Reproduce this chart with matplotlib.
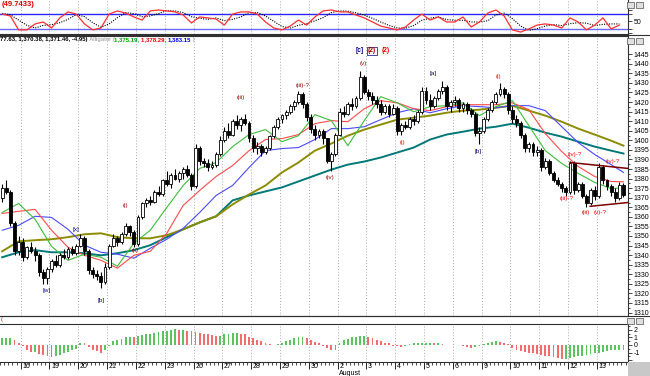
import matplotlib
matplotlib.use("Agg")
import matplotlib.pyplot as plt
import numpy as np
from matplotlib.patches import Rectangle
from matplotlib.transforms import blended_transform_factory

plt.rcParams["font.family"] = ["Liberation Sans", "DejaVu Sans"]

# ---- price bars (hourly), one list per field -------------------------------
opens = [1370, 1375, 1373, 1357, 1342,
         1347, 1339, 1344, 1342, 1340, 1331, 1328,
         1333, 1337, 1335, 1340, 1339, 1343, 1341,
         1345, 1349, 1342, 1332, 1330, 1329, 1326,
         1334, 1345, 1349, 1347, 1351, 1355, 1352,
         1346, 1360, 1367, 1369, 1368, 1373, 1372,
         1379, 1377, 1382, 1380, 1383, 1385, 1382,
         1376, 1396, 1389, 1388, 1386, 1387, 1393,
         1400, 1405, 1403, 1410, 1408, 1411, 1409,
         1401, 1396, 1397, 1394, 1396, 1402, 1407,
         1411, 1413, 1415, 1418, 1420, 1424, 1419,
         1412, 1406, 1403, 1405, 1401, 1389, 1393,
         1403, 1415, 1414, 1419, 1418, 1422, 1433,
         1425, 1423, 1421, 1419, 1415, 1418, 1414,
         1417, 1405, 1408, 1407, 1411, 1410, 1415,
         1426, 1421, 1418, 1422, 1426, 1428, 1418,
         1420, 1421, 1417, 1419, 1416, 1414, 1404,
         1405, 1411, 1416, 1420, 1424, 1427, 1424,
         1416, 1411, 1409, 1403, 1396, 1398, 1394,
         1395, 1386, 1389, 1383, 1379, 1377, 1375,
         1373, 1388, 1374, 1377, 1371, 1367, 1374,
         1371, 1386, 1379, 1376, 1373, 1370, 1376.4]
highs = [1377, 1379, 1374, 1358, 1350,
         1349, 1345, 1347, 1344, 1341, 1333, 1334,
         1338, 1340, 1341, 1343, 1344, 1345, 1346,
         1351, 1350, 1343, 1334, 1332, 1331, 1336,
         1346, 1351, 1350, 1352, 1357, 1356, 1353,
         1361, 1368, 1370, 1371, 1374, 1376, 1380,
         1384, 1383, 1385, 1384, 1386, 1387, 1383,
         1398, 1397, 1391, 1390, 1389, 1394, 1402,
         1407, 1409, 1411, 1413, 1412, 1414, 1410,
         1403, 1399, 1398, 1397, 1403, 1408, 1412,
         1414, 1416, 1419, 1421, 1426, 1425, 1420,
         1414, 1408, 1406, 1406, 1401, 1394, 1404,
         1417, 1418, 1420, 1422, 1423, 1436, 1434,
         1427, 1425, 1423, 1421, 1419, 1419, 1419,
         1418, 1409, 1410, 1412, 1413, 1416, 1428,
         1428, 1424, 1423, 1427, 1431, 1429, 1421,
         1423, 1422, 1420, 1420, 1417, 1415, 1407,
         1412, 1417, 1421, 1425, 1430, 1428, 1425,
         1418, 1413, 1410, 1404, 1399, 1399, 1397,
         1396, 1391, 1390, 1384, 1381, 1378, 1376,
         1389, 1389, 1378, 1378, 1372, 1375, 1376,
         1388, 1387, 1380, 1377, 1375, 1378, 1377.63]
lows = [1368, 1372, 1355, 1340, 1340,
        1337, 1338, 1341, 1337, 1329, 1325, 1325,
        1331, 1334, 1334, 1338, 1338, 1340, 1340,
        1344, 1340, 1330, 1328, 1327, 1323, 1325,
        1333, 1344, 1345, 1346, 1350, 1350, 1344,
        1345, 1359, 1365, 1366, 1367, 1371, 1371,
        1376, 1375, 1379, 1378, 1380, 1381, 1374,
        1375, 1387, 1386, 1384, 1385, 1386, 1392,
        1399, 1401, 1402, 1406, 1405, 1408, 1399,
        1394, 1393, 1392, 1393, 1395, 1401, 1406,
        1409, 1411, 1414, 1416, 1419, 1417, 1410,
        1404, 1400, 1401, 1398, 1388, 1384, 1392,
        1402, 1412, 1413, 1416, 1417, 1421, 1424,
        1421, 1419, 1417, 1413, 1414, 1412, 1413,
        1403, 1403, 1406, 1406, 1408, 1409, 1414,
        1419, 1416, 1417, 1421, 1424, 1416, 1415,
        1418, 1415, 1415, 1414, 1412, 1402, 1398,
        1404, 1410, 1415, 1419, 1423, 1422, 1414,
        1409, 1407, 1401, 1394, 1394, 1392, 1392,
        1384, 1385, 1382, 1378, 1376, 1373, 1371,
        1372, 1372, 1373, 1370, 1365, 1366, 1369,
        1370, 1377, 1374, 1371, 1368, 1369, 1370.38]
closes = [1375, 1373, 1357, 1342, 1347,
          1339, 1344, 1342, 1340, 1331, 1328, 1333,
          1337, 1335, 1340, 1339, 1343, 1341, 1345,
          1349, 1342, 1332, 1330, 1329, 1326, 1334,
          1345, 1349, 1347, 1351, 1355, 1352, 1346,
          1360, 1367, 1369, 1368, 1373, 1372, 1379,
          1377, 1382, 1380, 1383, 1385, 1382, 1376,
          1396, 1389, 1388, 1386, 1387, 1393, 1400,
          1405, 1403, 1410, 1408, 1411, 1409, 1401,
          1396, 1397, 1394, 1396, 1402, 1407, 1411,
          1413, 1415, 1418, 1420, 1424, 1419, 1412,
          1406, 1403, 1405, 1401, 1389, 1393, 1403,
          1415, 1414, 1419, 1418, 1422, 1433, 1425,
          1423, 1421, 1419, 1415, 1418, 1414, 1417,
          1405, 1408, 1407, 1411, 1410, 1415, 1426,
          1421, 1418, 1422, 1426, 1428, 1418, 1420,
          1421, 1417, 1419, 1416, 1414, 1404, 1405,
          1411, 1416, 1420, 1424, 1427, 1424, 1416,
          1411, 1409, 1403, 1396, 1398, 1394, 1395,
          1386, 1389, 1383, 1379, 1377, 1375, 1373,
          1388, 1374, 1377, 1371, 1367, 1374, 1371,
          1386, 1379, 1376, 1373, 1370, 1376.41, 1371.46]

day_labels = ["16", "19", "20", "21", "22", "23", "26", "27", "28", "29", "30",
              "2", "3", "4", "5", "6", "9", "10", "11", "12", "13"]
first_day_bar = 5
bars_per_day = 7

# ---- moving averages read every 4 bars -------------------------------------
ma_bars = list(range(0, 152, 4)) + [151]
lips = [1362.3, 1367.0, 1358.7, 1344.6, 1337.3, 1340.5, 1338.9, 1334.2, 1346.2, 1353.0,
        1364.9, 1376.4, 1385.3, 1388.4, 1396.7, 1403.0, 1405.6, 1399.3, 1402.4, 1413.4,
        1410.3, 1397.2, 1410.3, 1422.8, 1419.6, 1414.9, 1417.6, 1418.1, 1419.6, 1412.9,
        1417.6, 1420.7, 1407.7, 1394.6, 1387.9, 1382.7, 1378.0, 1374.8, 1375.2]
teeth = [1361.8, 1362.9, 1363.9, 1353.0, 1344.1, 1339.9, 1337.3, 1333.2, 1339.9, 1342.0,
         1351.4, 1366.0, 1373.8, 1381.1, 1386.8, 1394.6, 1400.4, 1400.9, 1403.0, 1408.7,
         1410.3, 1409.7, 1416.5, 1420.7, 1419.6, 1416.5, 1415.5, 1417.6, 1418.6, 1418.6,
         1418.6, 1419.6, 1416.0, 1403.5, 1394.1, 1386.3, 1381.1, 1378.5, 1378.3]
jaw = [1353.0, 1355.6, 1360.3, 1359.7, 1353.5, 1345.2, 1341.5, 1340.5, 1338.4, 1343.6,
       1348.3, 1354.0, 1362.3, 1371.2, 1376.4, 1385.8, 1394.6, 1395.7, 1396.2, 1400.4,
       1406.1, 1406.1, 1407.1, 1410.8, 1414.4, 1416.5, 1414.4, 1416.5, 1418.1, 1417.6,
       1417.0, 1418.1, 1418.1, 1415.5, 1407.1, 1398.8, 1392.6, 1387.3, 1383.2]
ma_olive = [1342.0, 1347.2, 1347.8, 1348.3, 1349.4, 1350.9, 1351.4, 1349.4, 1348.8, 1348.8,
            1350.4, 1353.5, 1357.1, 1360.3, 1366.5, 1371.7, 1376.4, 1383.2, 1388.4, 1394.6,
            1398.3, 1402.4, 1405.6, 1408.2, 1410.8, 1411.8, 1412.9, 1414.4, 1415.5, 1416.0,
            1417.0, 1418.1, 1415.5, 1412.9, 1409.7, 1406.1, 1403.0, 1399.8, 1397.2]
ma_teal = [1338.9, 1341.5, 1342.6, 1341.5, 1341.5, 1341.0, 1339.9, 1341.0, 1342.6, 1345.2,
           1349.4, 1353.5, 1357.1, 1360.3, 1368.6, 1371.2, 1373.3, 1375.4, 1378.5, 1381.6,
           1384.7, 1387.3, 1388.9, 1391.0, 1393.6, 1396.2, 1400.4, 1403.0, 1404.5, 1406.1,
           1407.1, 1408.7, 1406.6, 1404.0, 1401.9, 1399.3, 1396.7, 1394.6, 1393.1]

# ---- stochastic read every 2 bars ------------------------------------------
stoch_k = [81, 73, 15, 15, 40, 48, 23, 65, 90, 81, 40, 15, 23, 81, 94, 85, 69, 56, 94, 98,
           94, 90, 77, 44, 69, 65, 60, 35, 81, 90, 90, 81, 48, 23, 15, 31, 56, 35, 69, 94,
           98, 90, 90, 77, 65, 48, 31, 23, 15, 27, 56, 81, 56, 69, 48, 48, 69, 27, 48, 85,
           98, 73, 15, 6, 19, 35, 40, 35, 23, 65, 48, 15, 35, 65, 19, 35]
stoch_d = [84, 78, 56, 34, 23, 34, 37, 45, 59, 79, 70, 45, 26, 40, 66, 87, 83, 70, 73, 83,
           95, 94, 87, 70, 63, 59, 65, 53, 59, 69, 87, 87, 73, 51, 29, 23, 34, 41, 53, 66,
           87, 94, 93, 86, 77, 63, 48, 34, 23, 22, 33, 55, 64, 69, 58, 55, 55, 48, 48, 53,
           77, 85, 62, 31, 13, 20, 31, 37, 33, 41, 45, 43, 33, 38, 40, 40]
stoch_levels = [80, 20]

# ---- oscillator histogram, one value per bar -------------------------------
osc = [0.9, 0.9, 0.9, 0.7, 0.3, -0.1, -0.7, -0.9, -0.9, -1.2, -1.3, -1.5, -1.6, -1.5,
       -1.3, -1.1, -0.9, -0.7, -0.5, 0.3, 0.2, -0.3, -0.6, -0.8, -1.0, -0.6, -0.1, 0.5,
       0.7, 0.8, 1.0, 1.1, 1.0, 1.2, 1.3, 1.4, 1.5, 1.6, 1.7, 1.8, 1.9, 2.0, 2.1, 2.0,
       2.0, 1.9, 1.8, 1.7, 1.6, 1.5, 1.4, 1.3, 1.2, 1.2, 1.4, 1.5, 1.6, 1.6, 1.5, 1.4,
       1.1, 0.9, 0.7, 0.5, 0.3, 0.1, 0.05, 0.1, 0.3, 0.5, 0.7, 0.9, 1.0, 1.0, 0.9, 0.6,
       0.4, 0.2, -0.2, -0.4, -0.6, -0.7, 0.3, 0.6, 0.8, 1.0, 1.1, 1.2, 1.2, 1.1, 0.9, 0.7,
       0.5, 0.3, 0.2, -0.1, -0.2, -0.3, -0.2, 0.1, 0.2, 0.3, 0.3, 0.3, 0.3, 0.2, 0.2, 0.1,
       0.05, -0.05, 0.05, -0.05, -0.2, -0.3, -0.4, -0.3, -0.2, 0.1, 0.3, 0.4, 0.5, 0.4,
       0.3, 0.1, -0.4, -0.6, -0.8, -0.9, -1.0, -1.1, -1.2, -1.3, -1.4, -1.5, -1.6, -1.7,
       -1.8, -1.8, -1.7, -1.6, -1.5, -1.4, -1.3, -1.2, -1.1, -1.0, -0.9, -0.8, -0.7, -0.6,
       -0.6, -0.6]

# ---- wave labels: text, bar, price, colour ---------------------------------
NAVY, DRED, RED = "#00007f", "#990000", "#ee0000"
wave_labels = [
    ("[w]", 10.9, 1321.7, NAVY), ("[x]", 17.9, 1353.5, NAVY), ("[b]", 24.0, 1316.5, NAVY),
    ("(i)", 29.9, 1366.0, DRED), ("(ii)", 32.3, 1342.6, DRED), ("(iii)", 58.0, 1422.2, DRED),
    ("(iii)-?", 72.9, 1428.5, DRED), ("(iv)", 79.7, 1380.6, DRED), ("(v)", 87.7, 1439.9, DRED),
    ("(i)", 97.2, 1398.8, RED), ("[a]", 104.7, 1434.7, NAVY), ("[b]", 115.7, 1394.1, NAVY),
    ("(i)", 120.5, 1433.2, RED), ("(iii)-?", 137.3, 1369.6, RED), ("(iv)-?", 139.2, 1392.6, RED),
    ("(iii)", 141.9, 1362.3, RED), ("(v)-?", 145.3, 1362.3, RED), ("(iv)-?", 148.5, 1388.9, RED),
]
top_labels = [("[c]", 87.0, NAVY), ("(2)", 89.9, DRED), ("(2)", 93.1, RED)]
top_label_price = 1446.7

# ---- triangle trendlines (bar, price) --------------------------------------
upper_line = ([138.0, 152.1], [1388.4, 1385.3])
lower_line = ([142.9, 152.1], [1365.5, 1367.5])

W, H = 650, 376
FS = 5
GRID = dict(color="#a8a8a8", lw=0.7, ls=(0, (1, 2)), zorder=0)
SPINE = "#303030"

fig = plt.figure(figsize=(W / 100, H / 100), dpi=100)
fig.patch.set_facecolor("white")


def panel(top, bottom, left=0, right=628):
    return fig.add_axes([left / W, 1 - bottom / H, (right - left) / W, (bottom - top) / H])


ax_st = panel(0, 34)
ax = panel(36, 316)
ax_os = panel(324, 362)

n = len(closes)
x = np.arange(n)
xlim = (-0.53, 152.1)
day_starts = [first_day_bar + bars_per_day * k - 0.5 for k in range(len(day_labels))]

for a in (ax_st, ax, ax_os):
    a.set_xlim(*xlim)
    a.set_facecolor("white")
    for s in a.spines.values():
        s.set_color(SPINE)
        s.set_linewidth(0.8)
    a.spines["left"].set_visible(False)
    a.yaxis.tick_right()
    a.tick_params(axis="y", which="both", direction="out", labelsize=FS, pad=1,
                  colors="black", width=0.5)
    a.tick_params(axis="y", which="major", length=3)
    a.tick_params(axis="y", which="minor", length=1.5)
    for d in day_starts:
        a.axvline(d, **GRID)

# ---- stochastic panel ------------------------------------------------------
ax_st.set_ylim(-2.1, 139.6)
ax_st.spines["top"].set_visible(False)
ax_st.set_xticks([])
for lv, col in zip(stoch_levels, ["#2828ff", "#6a6aff"]):
    ax_st.axhline(lv, color=col, lw=1.0, zorder=1)
sx = np.arange(len(stoch_k)) * 2
ax_st.plot(sx, stoch_d, color="black", lw=0.8, ls=(0, (1, 1.2)), zorder=2)
ax_st.plot(sx, stoch_k, color="#ff3030", lw=0.9, zorder=3)
ax_st.set_yticks([0, 20, 50, 80, 100])
ax_st.set_yticklabels(["", "", "50", "", ""])
fig.text(2 / W, 1 - 4 / H, "(49.7433)", color="#dd0000", fontsize=5.5,
         fontweight="bold", va="center", ha="left")

# ---- price panel -----------------------------------------------------------
ax.set_ylim(1308.2, 1454.5)
ax.set_xticks([])
ax.set_yticks(np.arange(1310, 1446, 5))
ax.set_yticks(np.arange(1310, 1446, 2.5), minor=True)

o, h, l, c = (np.array(v, dtype=float) for v in (opens, highs, lows, closes))
up = c >= o
ax.plot(ma_bars, ma_teal, color="#007878", lw=1.4, zorder=2)
ax.plot(ma_bars, ma_olive, color="#8c8c00", lw=1.4, zorder=2)
ax.plot(ma_bars, jaw, color="#4a4aff", lw=0.8, zorder=2)
ax.plot(ma_bars, teeth, color="#ff4a4a", lw=0.8, zorder=2)
ax.plot(ma_bars, lips, color="#3cbc3c", lw=0.8, zorder=2)

ax.vlines(x, l, h, color="black", lw=0.8, zorder=3)
ax.bar(x[up], c[up] - o[up], bottom=o[up], width=0.7, color="white",
       edgecolor="black", lw=0.6, zorder=4)
ax.bar(x[~up], o[~up] - c[~up], bottom=c[~up], width=0.7, color="black",
       edgecolor="black", lw=0.6, zorder=4)

ax.plot(*upper_line, color="#7a0000", lw=1.1, zorder=5)
ax.plot(*lower_line, color="#7a0000", lw=1.1, zorder=5)

for txt, bx, py, col in wave_labels:
    ax.text(bx, py, txt, color=col, fontsize=4.5, ha="center", va="center", zorder=6)
for txt, bx, col in top_labels:
    kw = {}
    if col == DRED:
        kw["bbox"] = dict(boxstyle="square,pad=0.1", fc="white", ec=NAVY, lw=0.5)
    ax.text(bx, top_label_price, txt, color=col, fontsize=4.8, fontweight="bold",
            ha="center", va="center", zorder=6, **kw)

# info line of the price panel
fig.canvas.draw()
renderer = fig.canvas.get_renderer()
pieces = [("77.63, 1,370.38, 1,371.46, -4.95)", "black", "bold"),
          (" Alligator (", "#909090", "normal"),
          ("1,375.19, ", "#00a000", "bold"),
          ("1,378.29, ", "#ee0000", "bold"),
          ("1,383.15", "#0000ee", "bold"),
          (" )", "#909090", "normal")]
cx = 0
for s, col, wt in pieces:
    t = fig.text(cx / W, 1 - 40 / H, s, color=col, fontsize=4.3, fontweight=wt,
                 va="center", ha="left")
    cx += t.get_window_extent(renderer=renderer).width

# ---- oscillator panel ------------------------------------------------------
ax_os.set_ylim(-2.24, 2.76)
ov = np.array(osc)
rising = np.r_[True, ov[1:] >= ov[:-1]]
cols = np.where(rising, "#5cc45c", "#f26d6d")
ax_os.bar(x, ov, width=0.45, color=cols, zorder=2)
ax_os.set_yticks([-2, -1, 0, 1, 2])
ax_os.set_yticklabels(["", "-1", "0", "1", "2"])
ax_os.set_yticks(np.arange(-2, 2.6, 0.5), minor=True)
ax_os.set_xticks(day_starts)
ax_os.set_xticks(np.arange(-0.5, 152, 1), minor=True)
ax_os.tick_params(axis="x", which="major", length=5, width=0.6, labelbottom=False,
                  direction="out", colors="black")
ax_os.tick_params(axis="x", which="minor", length=2, width=0.5, direction="out",
                  colors="black")
trans = blended_transform_factory(ax_os.transData, ax_os.transAxes)
for d, lab in zip(day_starts, day_labels):
    ax_os.text(d + 0.4, -0.12, lab, transform=trans, fontsize=FS, ha="left",
               va="center")
aug = day_starts[day_labels.index("2")]
ax_os.text(aug + 0.4, -0.31, "August", transform=trans, fontsize=FS, ha="left",
           va="center")
fig.text(1 / W, 1 - 319 / H, "(", color="#ee0000", fontsize=4, va="center", ha="left")

# separator lines, panel buttons and corner box
fig.add_artist(plt.Line2D([0, 1], [1 - 316 / H] * 2, color=SPINE, lw=0.8))
fig.add_artist(plt.Line2D([0, 1], [1 - 35 / H] * 2, color=SPINE, lw=0.8))
for yb in (2, 38, 318):
    for xb in (627, 636):
        fig.add_artist(Rectangle((xb / W, 1 - (yb + 6) / H), 7 / W, 6 / H,
                                 fc="#e0e0e0", ec="#505050", lw=0.5))
fig.add_artist(Rectangle((628 / W, 0), 22 / W, 14 / H, fc="#c8c8c8", ec="none"))

fig.savefig("out.png", dpi=100)
